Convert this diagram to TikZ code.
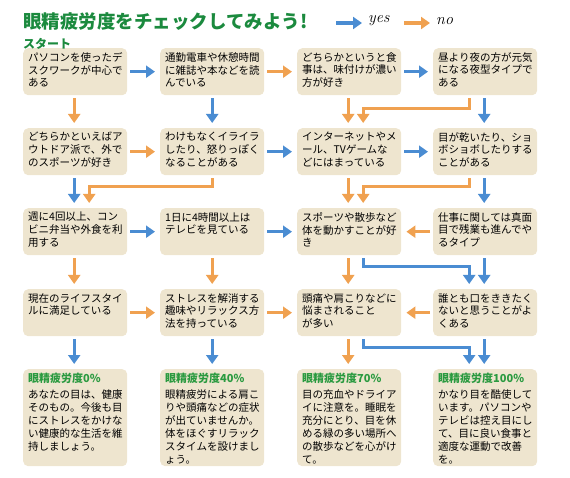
\documentclass[tikz,border=0pt]{standalone}
\usepackage{fontspec}
\newfontfamily\jp{Noto Sans CJK JP}
\usetikzlibrary{arrows.meta,calc}
\definecolor{boxc}{HTML}{EEE5CF}
\definecolor{ybl}{HTML}{4A8CD2}
\definecolor{nor}{HTML}{F0A150}
\definecolor{ttl}{HTML}{1B8A3E}
\definecolor{hdg}{HTML}{2A9A40}
\newcommand{\qb}[1]{\parbox[t][39pt][t]{94pt}{\raggedright #1}}
\newcommand{\rb}[2]{\parbox[t][89pt][t]{94pt}{\raggedright{\color{hdg}\bfseries\fontsize{11}{13}\selectfont #1}\\[3pt] #2}}
\tikzset{
  qbox/.style={fill=boxc, rounded corners=5pt, inner xsep=5pt, inner ysep=4pt,
    anchor=north west, font=\jp\fontsize{10.5}{12.9}\selectfont},
  yarr/.style={draw=ybl, line width=3.4pt, line join=miter,
    -{Triangle[width=12pt,length=9pt]}},
  narr/.style={draw=nor, line width=3.4pt, line join=miter,
    -{Triangle[width=12pt,length=9pt]}},
}
\begin{document}
\begin{tikzpicture}[x=1pt,y=-1pt]
\useasboundingbox (0,0) rectangle (570,478);
% title and legend
\node[anchor=west, text=ttl, font=\jp\bfseries\fontsize{18.5}{18.5}\selectfont, inner sep=0pt] (title) at (23,22) {眼精疲労度をチェックしてみよう!};
\coordinate (ya) at (336,23); \coordinate (yb) at (362,23);
\coordinate (na) at (404,23); \coordinate (nb) at (430,23);
\draw[yarr] (ya) -- (yb);
\draw[narr] (na) -- (nb);
\node[anchor=west, font=\itshape\fontsize{16}{16}\selectfont, inner sep=0pt] (yes) at (368,21) {yes};
\node[anchor=west, font=\itshape\fontsize{16}{16}\selectfont, inner sep=0pt] (no) at (436,21) {no};
% row 1
\node[qbox] (r1c1) at (23,48) {\qb{パソコンを使ったデ\\スクワークが中心で\\ある}};
\node[qbox] (r1c2) at (160,48) {\qb{通勤電車や休憩時間\\に雑誌や本などを読\\んでいる}};
\node[qbox] (r1c3) at (297,48) {\qb{どちらかというと食\\事は、味付けが濃い\\方が好き}};
\node[qbox] (r1c4) at (433,48) {\qb{昼より夜の方が元気\\になる夜型タイプで\\ある}};
% row 2
\node[qbox] (r2c1) at (23,128) {\qb{どちらかといえばア\\ウトドア派で、外で\\のスポーツが好き}};
\node[qbox] (r2c2) at (160,128) {\qb{わけもなくイライラ\\したり、怒りっぽく\\なることがある}};
\node[qbox] (r2c3) at (297,128) {\qb{インターネットやメ\\ール、TVゲームな\\どにはまっている}};
\node[qbox] (r2c4) at (433,128) {\qb{目が乾いたり、ショ\\ボショボしたりする\\ことがある}};
% row 3
\node[qbox] (r3c1) at (23,208) {\qb{週に4回以上、コン\\ビニ弁当や外食を利\\用する}};
\node[qbox] (r3c2) at (160,208) {\qb{1日に4時間以上は\\テレビを見ている}};
\node[qbox] (r3c3) at (297,208) {\qb{スポーツや散歩など\\体を動かすことが好\\き}};
\node[qbox] (r3c4) at (433,208) {\qb{仕事に関しては真面\\目で残業も進んでや\\るタイプ}};
% row 4
\node[qbox] (r4c1) at (23,289) {\qb{現在のライフスタイ\\ルに満足している}};
\node[qbox] (r4c2) at (160,289) {\qb{ストレスを解消する\\趣味やリラックス方\\法を持っている}};
\node[qbox] (r4c3) at (297,289) {\qb{頭痛や肩こりなどに\\悩まされること\\が多い}};
\node[qbox] (r4c4) at (433,289) {\qb{誰とも口をききたく\\ないと思うことがよ\\くある}};
% row 5
\node[qbox] (r5c1) at (23,369) {\rb{眼精疲労度0\%}{あなたの目は、健康\\そのもの。今後も目\\にストレスをかけな\\い健康的な生活を維\\持しましょう。}};
\node[qbox] (r5c2) at (160,369) {\rb{眼精疲労度40\%}{眼精疲労による肩こ\\りや頭痛などの症状\\が出ていませんか。\\体をほぐすリラック\\スタイムを設けまし\\ょう。}};
\node[qbox] (r5c3) at (297,369) {\rb{眼精疲労度70\%}{目の充血やドライア\\イに注意を。睡眠を\\充分にとり、目を休\\める緑の多い場所へ\\の散歩などを心がけ\\て。}};
\node[qbox] (r5c4) at (433,369) {\rb{眼精疲労度100\%}{かなり目を酷使して\\います。パソコンや\\テレビは控え目にし\\て、目に良い食事と\\適度な運動で改善\\を。}};
\node[anchor=west, text=ttl, font=\jp\bfseries\fontsize{12}{12}\selectfont, inner sep=0pt] (start) at (23,44) {スタート};
% horizontal arrows
\draw[yarr] ([xshift=3pt]r1c1.east) -- ([xshift=-5pt]r1c2.west);
\draw[narr] ([xshift=3pt]r1c2.east) -- ([xshift=-5pt]r1c3.west);
\draw[yarr] ([xshift=3pt]r1c3.east) -- ([xshift=-5pt]r1c4.west);
\draw[narr] ([xshift=3pt]r2c1.east) -- ([xshift=-5pt]r2c2.west);
\draw[yarr] ([xshift=3pt]r2c2.east) -- ([xshift=-5pt]r2c3.west);
\draw[yarr] ([xshift=3pt]r2c3.east) -- ([xshift=-5pt]r2c4.west);
\draw[yarr] ([xshift=3pt]r3c1.east) -- ([xshift=-5pt]r3c2.west);
\draw[yarr] ([xshift=3pt]r3c2.east) -- ([xshift=-5pt]r3c3.west);
\draw[narr] ([xshift=-3pt]r3c4.west) -- ([xshift=5pt]r3c3.east);
\draw[narr] ([xshift=3pt]r4c1.east) -- ([xshift=-5pt]r4c2.west);
\draw[narr] ([xshift=3pt]r4c2.east) -- ([xshift=-5pt]r4c3.west);
\draw[narr] ([xshift=-3pt]r4c4.west) -- ([xshift=5pt]r4c3.east);
% row1 -> row2
\draw[narr] ([xshift=-1pt,yshift=-3pt]r1c1.south) -- ([xshift=-1pt,yshift=5pt]r2c1.north);
\draw[yarr] ([yshift=-3pt]r1c2.south) -- ([yshift=5pt]r2c2.north);
\draw[narr] ([xshift=-1pt,yshift=-3pt]r1c3.south) -- ([xshift=-1pt,yshift=5pt]r2c3.north);
\draw[narr] ([xshift=-16pt,yshift=-3pt]r1c4.south) -- ++(0,10) -| ([xshift=14pt,yshift=5pt]r2c3.north);
\draw[yarr] ([xshift=-1pt,yshift=-3pt]r1c4.south) -- ([xshift=-1pt,yshift=5pt]r2c4.north);
% row2 -> row3
\draw[yarr] ([xshift=-1pt,yshift=-3pt]r2c1.south) -- ([xshift=-1pt,yshift=5pt]r3c1.north);
\draw[narr] ([yshift=-3pt]r2c2.south) -- ++(0,8) -| ([xshift=14pt,yshift=5pt]r3c1.north);
\draw[narr] ([xshift=-1pt,yshift=-3pt]r2c3.south) -- ([xshift=-1pt,yshift=5pt]r3c3.north);
\draw[narr] ([xshift=-16pt,yshift=-3pt]r2c4.south) -- ++(0,8) -| ([xshift=14pt,yshift=5pt]r3c3.north);
\draw[yarr] ([xshift=-1pt,yshift=-3pt]r2c4.south) -- ([xshift=-1pt,yshift=5pt]r3c4.north);
% row3 -> row4
\draw[narr] ([xshift=-1pt,yshift=-3pt]r3c1.south) -- ([xshift=-1pt,yshift=5pt]r4c1.north);
\draw[narr] ([yshift=-3pt]r3c2.south) -- ([yshift=5pt]r4c2.north);
\draw[narr] ([xshift=-1pt,yshift=-3pt]r3c3.south) -- ([xshift=-1pt,yshift=5pt]r4c3.north);
\draw[yarr] ([xshift=14pt,yshift=-3pt]r3c3.south) -- ++(0,8) -| ([xshift=-16pt,yshift=5pt]r4c4.north);
\draw[yarr] ([xshift=-1pt,yshift=-3pt]r3c4.south) -- ([xshift=-1pt,yshift=5pt]r4c4.north);
% row4 -> row5
\draw[yarr] ([xshift=-1pt,yshift=-3pt]r4c1.south) -- ([xshift=-1pt,yshift=5pt]r5c1.north);
\draw[yarr] ([yshift=-3pt]r4c2.south) -- ([yshift=5pt]r5c2.north);
\draw[narr] ([xshift=-1pt,yshift=-3pt]r4c3.south) -- ([xshift=-1pt,yshift=5pt]r5c3.north);
\draw[yarr] ([xshift=14pt,yshift=-3pt]r4c3.south) -- ++(0,8) -| ([xshift=-16pt,yshift=5pt]r5c4.north);
\draw[yarr] ([xshift=-1pt,yshift=-3pt]r4c4.south) -- ([xshift=-1pt,yshift=5pt]r5c4.north);
\end{tikzpicture}
\end{document}
